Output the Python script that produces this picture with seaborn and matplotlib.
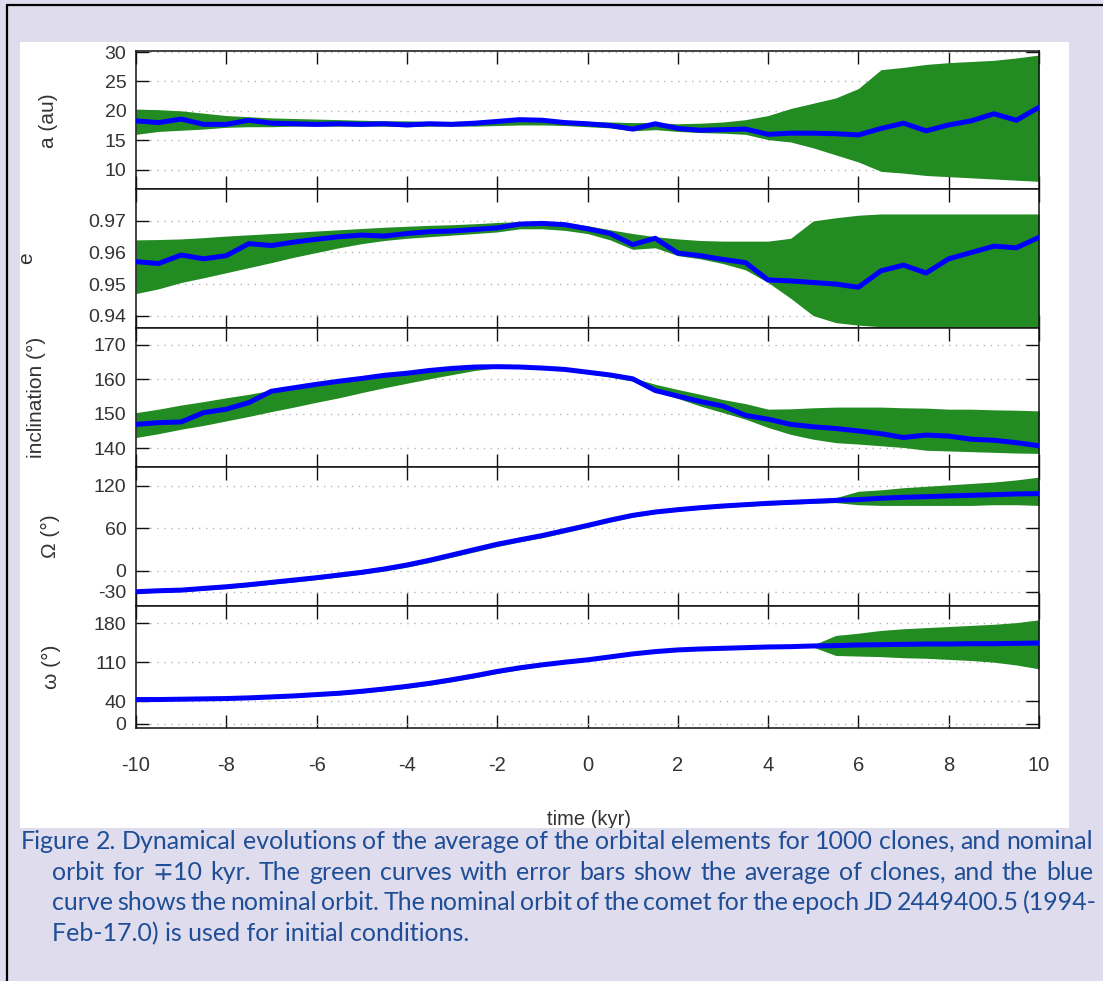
import numpy as np
import pandas as pd
import matplotlib
matplotlib.use("Agg")
import matplotlib.pyplot as plt
import seaborn as sns
from matplotlib.patches import Rectangle
from matplotlib.lines import Line2D
from matplotlib.ticker import FixedLocator

sns.set_theme(style="white")
plt.rcParams["font.family"] = ["Liberation Sans", "DejaVu Sans"]
plt.rcParams["axes.unicode_minus"] = False

# ---------------- data ----------------
time_kyr = [-10.0, -9.5, -9.0, -8.5, -8.0, -7.5, -7.0, -6.5, -6.0, -5.5, -5.0,
            -4.5, -4.0, -3.5, -3.0, -2.5, -2.0, -1.5, -1.0, -0.5, 0.0,
            0.5, 1.0, 1.5, 2.0, 2.5, 3.0, 3.5, 4.0, 4.5, 5.0,
            5.5, 6.0, 6.5, 7.0, 7.5, 8.0, 8.5, 9.0, 9.5, 10.0]

a_nominal = [18.3, 18.0, 18.6, 17.7, 17.7, 18.4, 17.9, 17.8, 17.7, 17.8, 17.7,
             17.8, 17.6, 17.8, 17.7, 17.9, 18.2, 18.5, 18.4, 18.0, 17.8,
             17.5, 16.9, 17.8, 17.0, 16.7, 16.8, 16.9, 16.0, 16.2, 16.2,
             16.1, 15.9, 17.0, 17.9, 16.6, 17.6, 18.3, 19.5, 18.4, 20.6]
a_upper = [20.3, 20.2, 20.0, 19.6, 19.2, 19.0, 18.8, 18.7, 18.6, 18.5, 18.4,
           18.3, 18.3, 18.2, 18.2, 18.3, 18.4, 18.6, 18.6, 18.4, 18.2,
           18.1, 18.0, 18.0, 17.8, 17.9, 18.1, 18.5, 19.2, 20.4, 21.3,
           22.2, 23.8, 27.0, 27.4, 27.9, 28.2, 28.4, 28.6, 29.0, 29.5]
a_lower = [16.0, 16.5, 16.7, 16.9, 17.2, 17.3, 17.3, 17.4, 17.4, 17.4, 17.4,
           17.4, 17.3, 17.4, 17.4, 17.4, 17.5, 17.6, 17.6, 17.5, 17.3,
           17.1, 16.6, 16.8, 16.5, 16.3, 16.2, 16.0, 15.1, 14.7, 13.7,
           12.5, 11.3, 9.7, 9.4, 9.0, 8.8, 8.6, 8.4, 8.2, 8.0]

e_nominal = [0.9571, 0.9565, 0.9592, 0.9580, 0.9590, 0.9628, 0.9622, 0.9633, 0.9642, 0.9650, 0.9655,
             0.9652, 0.9660, 0.9666, 0.9668, 0.9673, 0.9678, 0.9690, 0.9692, 0.9688, 0.9675,
             0.9660, 0.9625, 0.9645, 0.9598, 0.9590, 0.9578, 0.9568, 0.9513, 0.9510, 0.9505,
             0.9500, 0.9490, 0.9542, 0.9560, 0.9535, 0.9580, 0.9600, 0.9620, 0.9615, 0.9648]
e_upper = [0.9640, 0.9641, 0.9643, 0.9647, 0.9652, 0.9656, 0.9660, 0.9664, 0.9668, 0.9672, 0.9676,
           0.9680, 0.9683, 0.9686, 0.9688, 0.9691, 0.9695, 0.9698, 0.9700, 0.9696, 0.9685,
           0.9672, 0.9660, 0.9650, 0.9643, 0.9638, 0.9636, 0.9636, 0.9636, 0.9645, 0.9700,
           0.9710, 0.9718, 0.9722, 0.9722, 0.9722, 0.9722, 0.9722, 0.9722, 0.9722, 0.9722]
e_lower = [0.9470, 0.9485, 0.9505, 0.9520, 0.9536, 0.9552, 0.9568, 0.9585, 0.9600, 0.9615, 0.9628,
           0.9638, 0.9645, 0.9650, 0.9655, 0.9660, 0.9665, 0.9675, 0.9675, 0.9670, 0.9660,
           0.9640, 0.9610, 0.9615, 0.9590, 0.9580, 0.9565, 0.9545, 0.9505, 0.9455, 0.9400,
           0.9378, 0.9370, 0.9365, 0.9365, 0.9365, 0.9365, 0.9365, 0.9365, 0.9365, 0.9365]

inc_nominal = [146.9, 147.4, 147.6, 150.3, 151.3, 153.2, 156.5, 157.5, 158.5, 159.4, 160.2,
               161.1, 161.7, 162.5, 163.1, 163.5, 163.6, 163.5, 163.2, 162.8, 162.0,
               161.2, 160.1, 156.7, 155.1, 153.5, 152.2, 149.5, 148.4, 146.9, 146.2,
               145.7, 145.0, 144.2, 143.1, 143.8, 143.5, 142.6, 142.3, 141.6, 140.7]
inc_upper = [150.3, 151.3, 152.5, 153.5, 154.6, 155.6, 156.8, 158.0, 158.9, 159.7, 160.6,
             161.3, 162.0, 162.6, 163.1, 163.6, 163.8, 163.8, 163.4, 162.9, 162.2,
             161.4, 160.4, 158.5, 157.0, 155.6, 154.1, 152.9, 151.3, 151.4, 151.7,
             151.9, 151.9, 151.9, 151.7, 151.6, 151.3, 151.3, 151.1, 151.0, 150.8]
inc_lower = [143.1, 144.2, 145.5, 146.6, 147.9, 149.2, 150.6, 151.9, 153.3, 154.6, 156.1,
             157.5, 158.8, 160.1, 161.3, 162.5, 163.3, 163.3, 163.0, 162.5, 161.6,
             160.6, 159.4, 156.3, 154.4, 152.2, 150.3, 148.4, 146.0, 144.0, 142.6,
             141.6, 141.2, 140.7, 140.2, 139.4, 139.2, 139.0, 138.8, 138.6, 138.5]

node_nominal = [-29.7, -28.3, -27.4, -25.0, -22.7, -19.8, -16.5, -13.2, -9.9, -6.1, -2.3,
                2.4, 8.0, 14.7, 22.2, 29.8, 37.3, 43.5, 49.6, 56.7, 63.8,
                71.3, 78.0, 82.7, 86.0, 88.8, 91.2, 93.1, 95.0, 96.4, 97.8,
                99.2, 100.2, 102.1, 103.5, 104.4, 105.4, 106.3, 107.2, 108.2, 108.7]
node_upper = [-27.5, -26.0, -25.0, -22.5, -20.0, -17.0, -13.5, -10.0, -6.5, -2.5, 1.5,
              6.0, 11.5, 18.0, 25.5, 33.0, 40.5, 46.5, 52.5, 59.5, 66.5,
              74.0, 80.5, 85.0, 88.0, 91.0, 93.5, 95.5, 97.5, 99.0, 100.5,
              103.0, 112.0, 114.0, 117.0, 119.0, 121.0, 123.0, 125.0, 128.0, 132.0]
node_lower = [-31.5, -30.5, -29.5, -27.5, -25.0, -22.5, -19.0, -16.0, -12.5, -9.0, -5.0,
              -0.5, 5.0, 11.5, 19.0, 26.5, 34.0, 40.5, 46.5, 53.5, 61.0,
              68.5, 75.5, 80.5, 84.0, 86.5, 89.0, 91.0, 92.5, 94.0, 95.0,
              96.0, 93.0, 92.0, 92.0, 92.0, 92.0, 92.0, 93.0, 93.0, 92.0]

peri_nominal = [43.0, 43.0, 43.6, 44.2, 44.8, 46.0, 47.7, 49.5, 51.9, 54.3, 57.8,
                62.0, 66.7, 72.1, 78.6, 85.7, 93.4, 99.9, 105.3, 110.0, 114.2,
                119.5, 124.8, 129.0, 132.0, 133.7, 134.9, 136.1, 137.3, 137.9, 139.1,
                139.7, 140.9, 141.4, 142.0, 142.6, 142.6, 143.2, 143.2, 143.8, 144.4]
peri_upper = [45.0, 45.0, 45.8, 46.5, 47.2, 48.5, 50.3, 52.2, 54.7, 57.3, 61.0,
              65.3, 70.2, 75.8, 82.4, 89.5, 97.0, 103.2, 108.2, 112.6, 116.6,
              121.8, 126.8, 130.8, 133.8, 135.5, 136.7, 138.0, 139.3, 140.0, 141.0,
              158.0, 162.0, 167.0, 170.0, 172.0, 174.0, 176.0, 178.0, 181.0, 186.0]
peri_lower = [41.0, 41.0, 41.5, 42.0, 42.5, 43.6, 45.2, 46.9, 49.2, 51.4, 54.7,
              58.8, 63.3, 68.6, 74.9, 82.0, 89.8, 96.6, 102.5, 107.5, 111.8,
              117.2, 122.8, 127.2, 130.3, 132.0, 133.2, 134.3, 135.4, 136.0, 137.0,
              122.0, 121.0, 120.0, 118.0, 117.0, 115.0, 113.0, 110.0, 105.0, 98.0]

panel_labels = ["a (au)", "e", "inclination (\u00b0)", "\u03a9 (\u00b0)", "\u03c9 (\u00b0)"]
panel_yticks = [[10, 15, 20, 25, 30], [0.94, 0.95, 0.96, 0.97],
                [140, 150, 160, 170], [-30, 0, 60, 120], [0, 40, 110, 180]]
panel_yticklabels = [["10", "15", "20", "25", "30"], ["0.94", "0.95", "0.96", "0.97"],
                     ["140", "150", "160", "170"], ["-30", "0", "60", "120"],
                     ["0", "40", "110", "180"]]
x_ticks = [-10, -8, -6, -4, -2, 0, 2, 4, 6, 8, 10]
x_ticklabels = ["-10", "-8", "-6", "-4", "-2", "0", "2", "4", "6", "8", "10"]
x_label = "time (kyr)"

caption_lines = [
    "Figure 2. Dynamical evolutions of the average of the orbital elements for 1000 clones, and nominal",
    "orbit for \u221310 kyr. The green curves with error bars show the average of clones, and the blue",
    "curve shows the nominal orbit. The nominal orbit of the comet for the epoch JD 2449400.5 (1994-",
    "Feb-17.0) is used for initial conditions.",
]

# ---------------- layout / style ----------------
W, H = 1103, 981
LAVENDER = "#dfdcee"
GREEN = "#228b22"
BLUE = "#0000ff"
CAP_COLOR = "#1f4e96"
CAP_FONT = ["Lato", "DejaVu Sans"]

fig = plt.figure(figsize=(W / 100, H / 100), dpi=100)
fig.patch.set_facecolor(LAVENDER)


def fx(x):
    return x / W


def fy(y):
    return 1 - y / H


# white plotting area
fig.patches.append(Rectangle((fx(20), fy(828)), fx(1069) - fx(20), fy(42) - fy(828),
                             transform=fig.transFigure, facecolor="white",
                             edgecolor="none", zorder=-5))

bounds = [51.5, 189, 328, 466.5, 605.5, 728.3]
ylims = [(6.7, 30.1), (0.9361, 0.9801), (134.7, 174.8), (-49.1, 146.9), (-8.6, 211.7)]
series = [(a_nominal, a_lower, a_upper), (e_nominal, e_lower, e_upper),
          (inc_nominal, inc_lower, inc_upper), (node_nominal, node_lower, node_upper),
          (peri_nominal, peri_lower, peri_upper)]

left_px, right_px = 136, 1039
axes = []
for i in range(5):
    top, bot = bounds[i], bounds[i + 1]
    ax = fig.add_axes([fx(left_px), fy(bot), fx(right_px) - fx(left_px), (bot - top) / H])
    axes.append(ax)
    nom, lo, hi = series[i]
    df = pd.DataFrame({"time": time_kyr, "nominal": nom, "lower": lo, "upper": hi})
    ax.fill_between(df["time"], df["lower"], df["upper"], color=GREEN, lw=0, zorder=2)
    sns.lineplot(data=df, x="time", y="nominal", ax=ax, color=BLUE, lw=3.6, zorder=3,
                 solid_capstyle="round")
    ax.set_xlim(-10, 10)
    ax.set_ylim(*ylims[i])
    ax.set_xlabel("")
    ax.set_ylabel("")
    ax.set_facecolor("white")
    ax.set_axisbelow(True)
    ax.yaxis.set_major_locator(FixedLocator(panel_yticks[i]))
    ax.set_yticklabels(panel_yticklabels[i])
    ax.xaxis.set_major_locator(FixedLocator(x_ticks))
    ax.grid(axis="y", color="#b4b4b4", linestyle=(0, (1, 4)), lw=1.0)
    ax.grid(axis="x", visible=False)
    for sp in ax.spines.values():
        sp.set_visible(True)
        sp.set_color("#111111")
        sp.set_linewidth(1.1)
    ax.tick_params(axis="y", direction="in", left=True, right=True, length=9.5,
                   width=1.0, color="#111111", labelsize=14, labelcolor="#333333", pad=7)
    ax.tick_params(axis="x", direction="in", top=True, bottom=True, length=9.5,
                   width=1.0, color="#111111", labelsize=14.5, labelcolor="#333333", pad=20)
    if i < 4:
        ax.tick_params(axis="x", labelbottom=False)
    else:
        ax.set_xticklabels(x_ticklabels)
    # y label centred beside each panel
    label_x = [48, 27, 36, 50, 51][i]
    fig.text(fx(label_x), fy((top + bot) / 2), panel_labels[i], rotation=90,
             ha="center", va="center", fontsize=15, color="#333333")

# x label (cut by the caption area as in the reference)
fig.text(fx(589), fy(825), x_label, ha="center", va="baseline", fontsize=14.5,
         color="#333333", zorder=1)
fig.patches.append(Rectangle((0, 0), 1, fy(828), transform=fig.transFigure,
                             facecolor=LAVENDER, edgecolor="none", zorder=2))

# border lines
fig.lines.append(Line2D([fx(7), fx(7)], [fy(4.5), 0], transform=fig.transFigure,
                        color="black", lw=1.6, zorder=6))
fig.lines.append(Line2D([fx(7), 1], [fy(5), fy(5)], transform=fig.transFigure,
                        color="black", lw=1.6, zorder=6))

# caption (justified like the reference)
renderer = fig.canvas.get_renderer()
probe = fig.text(0, 0, caption_lines[3], fontsize=10, family=CAP_FONT)
w10 = probe.get_window_extent(renderer).width
probe.remove()
cap_size = 10 * 420 / w10

line_specs = [(21, 1093, 849, True), (52, 1093, 880, True),
              (52, 1097, 910, True), (52, None, 941, False)]
for text, (x0, x1, yb, just) in zip(caption_lines, line_specs):
    if not just:
        fig.text(fx(x0), fy(yb), text, fontsize=cap_size, family=CAP_FONT,
                 color=CAP_COLOR, ha="left", va="baseline", zorder=5)
        continue
    words = text.split(" ")
    arts = [fig.text(0, fy(yb), w, fontsize=cap_size, family=CAP_FONT,
                     color=CAP_COLOR, ha="left", va="baseline", zorder=5) for w in words]
    widths = [a.get_window_extent(renderer).width for a in arts]
    gap = (x1 - x0 - sum(widths)) / (len(words) - 1)
    x = x0
    for a, wd in zip(arts, widths):
        a.set_x(fx(x))
        x += wd + gap

fig.savefig("out.png", dpi=100, facecolor=LAVENDER)
